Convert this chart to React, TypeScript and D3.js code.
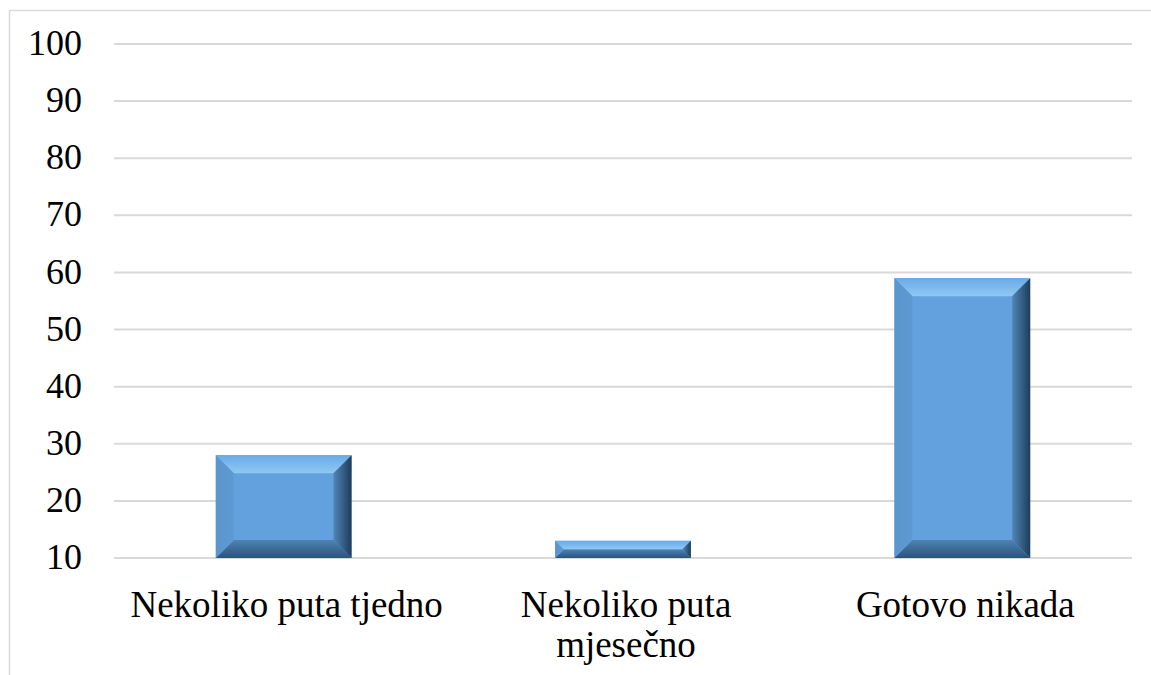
import * as d3 from "d3";
import { useEffect, useRef } from "react";

const categories = ["Nekoliko puta tjedno", "Nekoliko puta mjesečno", "Gotovo nikada"];
const categoryLines = [["Nekoliko puta tjedno"], ["Nekoliko puta", "mjesečno"], ["Gotovo nikada"]];
const values = [28, 13, 59];
const yTicks = [10, 20, 30, 40, 50, 60, 70, 80, 90, 100];

const FONT = '"Liberation Serif", "Times New Roman", "DejaVu Serif", serif';

export default function App() {
  const ref = useRef<SVGSVGElement | null>(null);

  useEffect(() => {
    const svg = d3.select(ref.current);
    svg.selectAll("*").remove();

    const W = 1151,
      H = 675;
    const margin = { top: 44, right: 19, bottom: 117, left: 114 };
    const width = W - margin.left - margin.right;
    const height = H - margin.top - margin.bottom;

    // frame
    svg
      .append("path")
      .attr("d", `M9.5,${H + 2} L9.5,10.5 L${W + 2},10.5`)
      .attr("fill", "none")
      .attr("stroke", "#d9d9d9")
      .attr("stroke-width", 1.5);

    const defs = svg.append("defs");
    const grad = (id: string, x2: number, y2: number, stops: [number, string][]) => {
      const g = defs
        .append("linearGradient")
        .attr("id", id)
        .attr("x1", 0)
        .attr("y1", 0)
        .attr("x2", x2)
        .attr("y2", y2);
      stops.forEach(([o, c]) => g.append("stop").attr("offset", o).attr("stop-color", c));
    };
    grad("bTop", 0, 1, [[0, "#6aaae6"], [1, "#8fc8f4"]]);
    grad("bRight", 1, 0, [[0, "#4f86b8"], [1, "#1f3c58"]]);
    grad("bBottom", 0, 1, [[0, "#4d83b3"], [1, "#2c5378"]]);
    grad("bLeft", 1, 0, [[0, "#5a96cc"], [1, "#5e9ad2"]]);

    const g = svg.append("g").attr("transform", `translate(${margin.left},${margin.top})`);

    const x = d3.scaleBand().domain(categories).range([0, width]).paddingInner(0.6).paddingOuter(0.3);
    const y = d3.scaleLinear().domain([10, 100]).range([height, 0]);

    // grid
    g.selectAll("line.grid")
      .data(yTicks)
      .enter()
      .append("line")
      .attr("x1", 0)
      .attr("x2", width)
      .attr("y1", (d) => y(d))
      .attr("y2", (d) => y(d))
      .attr("stroke", "#d9d9d9")
      .attr("stroke-width", 2);

    // y labels
    g.selectAll("text.ytick")
      .data(yTicks)
      .enter()
      .append("text")
      .attr("x", -32)
      .attr("y", (d) => y(d))
      .attr("dy", "0.31em")
      .attr("text-anchor", "end")
      .style("font-family", FONT)
      .style("font-size", "36px")
      .attr("fill", "#000")
      .text((d) => d);

    // bars with bevel
    values.forEach((v, i) => {
      const c = categories[i];
      const x0 = x(c) ?? 0;
      const x1 = x0 + x.bandwidth();
      const y0 = y(v);
      const y1 = y(10);
      const b = Math.min(18, (y1 - y0) / 2, x.bandwidth() / 2);
      const bar = g.append("g");
      bar.append("rect").attr("x", x0).attr("y", y0).attr("width", x1 - x0).attr("height", y1 - y0).attr("fill", "#62a1dd");
      bar
        .append("path")
        .attr("d", `M${x0},${y0} L${x1},${y0} L${x1 - b},${y0 + b} L${x0 + b},${y0 + b} Z`)
        .attr("fill", "url(#bTop)");
      bar
        .append("path")
        .attr("d", `M${x1},${y0} L${x1},${y1} L${x1 - b},${y1 - b} L${x1 - b},${y0 + b} Z`)
        .attr("fill", "url(#bRight)");
      bar
        .append("path")
        .attr("d", `M${x0},${y1} L${x1},${y1} L${x1 - b},${y1 - b} L${x0 + b},${y1 - b} Z`)
        .attr("fill", "url(#bBottom)");
      bar
        .append("path")
        .attr("d", `M${x0},${y0} L${x0 + b},${y0 + b} L${x0 + b},${y1 - b} L${x0},${y1} Z`)
        .attr("fill", "url(#bLeft)");
    });

    // x labels
    categoryLines.forEach((lines, i) => {
      const cx = (x(categories[i]) ?? 0) + x.bandwidth() / 2 + 3;
      const t = g
        .append("text")
        .attr("text-anchor", "middle")
        .style("font-family", FONT)
        .style("font-size", "37px")
        .attr("fill", "#000");
      lines.forEach((l, j) => {
        t.append("tspan")
          .attr("x", cx)
          .attr("y", height + 59 + j * 40)
          .text(l);
      });
    });
  }, []);

  return (
    <svg
      ref={ref}
      width={1151}
      height={675}
      style={{ position: "absolute", left: 0, top: 0, background: "#fff" }}
    />
  );
}
